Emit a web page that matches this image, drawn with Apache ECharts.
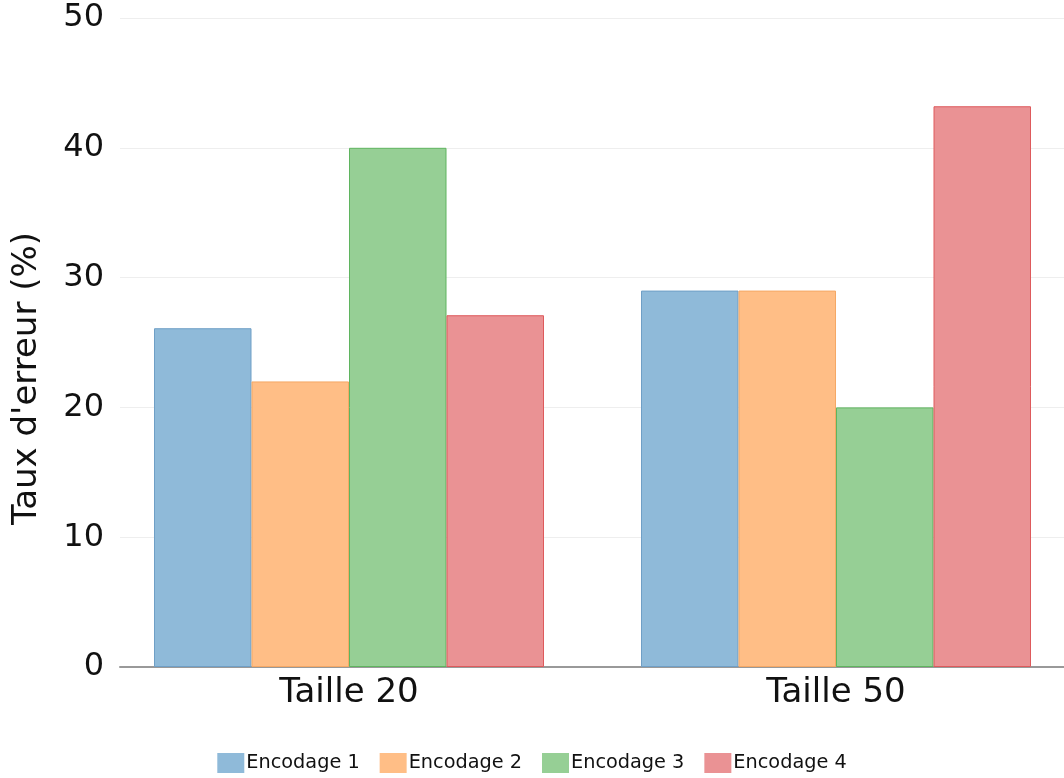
<!DOCTYPE html>
<html><head><meta charset="utf-8">
<script src="https://cdn.jsdelivr.net/npm/echarts@6/dist/echarts.min.js"></script>
<style>html,body{margin:0;padding:0;background:#fff}#c{width:1064px;height:778px}</style>
</head><body><div id="c"></div>
<script>
const categories = ['Taille 20', 'Taille 50'];
const seriesNames = ['Encodage 1', 'Encodage 2', 'Encodage 3', 'Encodage 4'];
const enc1 = [26.1, 29.0];
const enc2 = [22.0, 29.0];
const enc3 = [40.0, 20.0];
const enc4 = [27.1, 43.2];
const yTicks = { min: 0, max: 50, interval: 10 };

const fills = ['#8fbad9', '#ffbe86', '#96cf95', '#ea9294'];
const edges = ['#6f9fc6', '#f5a865', '#5fb45f', '#de5a5c'];
const values = [enc1, enc2, enc3, enc4];
const font = 'DejaVu Sans';

const chart = echarts.init(document.getElementById('c'));
chart.setOption({
  animation: false,
  textStyle: { fontFamily: font },
  grid: [
    { left: 120, right: 0, top: 18, bottom: 111 },
    { left: 105.5, width: 974, top: 18, bottom: 111, outerBoundsMode: 'none', containLabel: false }
  ],
  xAxis: [
    { gridIndex: 0, type: 'category', data: categories,
      axisLine: { lineStyle: { color: '#999', width: 2 } },
      axisTick: { show: false }, axisLabel: { show: false } },
    { gridIndex: 1, type: 'category', data: categories,
      axisLine: { show: false }, axisTick: { show: false },
      axisLabel: { fontSize: 34, color: '#111', margin: 9, fontFamily: font } }
  ],
  yAxis: [
    { gridIndex: 0, type: 'value', min: yTicks.min, max: yTicks.max, interval: yTicks.interval,
      name: "Taux d'erreur (%)", nameLocation: 'middle', nameGap: 76,
      nameTextStyle: { fontSize: 34, color: '#111', fontFamily: font, padding: [0, 72, 0, 0] },
      axisLine: { show: false }, axisTick: { show: false },
      axisLabel: { fontSize: 32, color: '#111', margin: 16, fontFamily: font, padding: [8, 0, 0, 0] },
      splitLine: { lineStyle: { color: '#eeeeee', width: 1 } } },
    { gridIndex: 1, type: 'value', min: yTicks.min, max: yTicks.max, interval: yTicks.interval,
      show: false, splitLine: { show: false } }
  ],
  legend: {
    bottom: 0, left: 'center', itemWidth: 27, itemHeight: 20, itemGap: 20,
    icon: 'rect',
    itemStyle: { borderWidth: 0 },
    textStyle: { fontSize: 19.3, color: '#111', fontFamily: font, padding: [0, 0, 0, -3] },
    data: seriesNames
  },
  series: seriesNames.map((n, i) => ({
    name: n, type: 'bar', xAxisIndex: 1, yAxisIndex: 1,
    data: values[i], barWidth: 97.5, barGap: '0%',
    itemStyle: { color: fills[i], borderColor: edges[i], borderWidth: 1 }
  }))
});
</script></body></html>
